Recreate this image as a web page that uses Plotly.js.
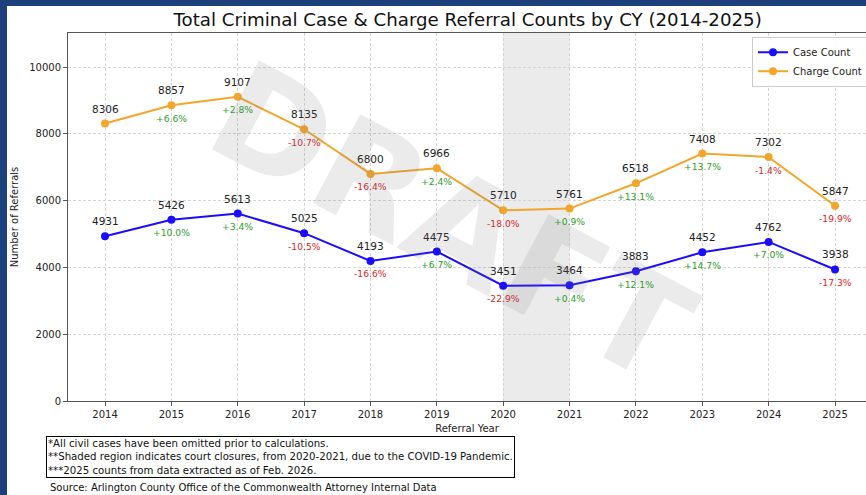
<!DOCTYPE html>
<html>
<head>
<meta charset="utf-8">
<script src="https://cdn.plot.ly/plotly-3.0.1.min.js"></script>
<style>
html,body{margin:0;padding:0;background:#fff;overflow:hidden;}
#wrap{position:relative;width:866px;height:495px;}
#chart{position:absolute;left:0;top:0;width:866px;height:495px;}
.bar{position:absolute;background:#1d3f7c;}
</style>
</head>
<body>
<div id="wrap">
<div id="chart"></div>
<div class="bar" style="left:0;top:0;width:7px;height:495px;"></div>
<div class="bar" style="left:0;top:0;width:866px;height:6px;"></div>
</div>
<script>
const years = [2014,2015,2016,2017,2018,2019,2020,2021,2022,2023,2024,2025];
const caseCounts = [4931,5426,5613,5025,4193,4475,3451,3464,3883,4452,4762,3938];
const chargeCounts = [8306,8857,9107,8135,6800,6966,5710,5761,6518,7408,7302,5847];
const casePct = [null,"+10.0%","+3.4%","-10.5%","-16.6%","+6.7%","-22.9%","+0.4%","+12.1%","+14.7%","+7.0%","-17.3%"];
const chargePct = [null,"+6.6%","+2.8%","-10.7%","-16.4%","+2.4%","-18.0%","+0.9%","+13.1%","+13.7%","-1.4%","-19.9%"];
const yTicks = [0,2000,4000,6000,8000,10000];
const shadeStart = 2020, shadeEnd = 2021;
const titleText = "Total Criminal Case &amp; Charge Referral Counts by CY (2014-2025)";
const notes = ["*All civil cases have been omitted prior to calculations.",
  "**Shaded region indicates court closures, from 2020-2021, due to the COVID-19 Pandemic.",
  "***2025 counts from data extracted as of Feb. 2026."];
const sourceText = "Source: Arlington County Office of the Commonwealth Attorney Internal Data";

const FONT = "DejaVu Sans, sans-serif";
const BLUE = "#1a0dff", ORANGE = "#f2a62b", GREEN = "#2ca02c", RED = "#d62728";

const traces = [
  {x: years, y: caseCounts, name: "Case Count", type: "scatter", mode: "lines+markers",
   line: {color: BLUE, width: 2}, marker: {color: BLUE, size: 8}},
  {x: years, y: chargeCounts, name: "Charge Count", type: "scatter", mode: "lines+markers",
   line: {color: ORANGE, width: 2}, marker: {color: ORANGE, size: 8}}
];

const ann = [];
function addLabels(vals, pcts) {
  vals.forEach((v, i) => {
    ann.push({x: years[i], y: v, xref: "x", yref: "y", text: String(v), showarrow: false,
      yshift: 15, font: {family: FONT, size: 10.5, color: "#222"}});
    if (pcts[i]) {
      ann.push({x: years[i], y: v, xref: "x", yref: "y", text: pcts[i], showarrow: false,
        yshift: -13, font: {family: FONT, size: 9.2, color: pcts[i][0] === "+" ? GREEN : RED}});
    }
  });
}
addLabels(caseCounts, casePct);
addLabels(chargeCounts, chargePct);

ann.push({x: (451-68)/798, y: (401-222)/368, xref: "paper", yref: "paper", text: "DRAFT", showarrow: false,
  textangle: 28, font: {family: FONT, size: 138, color: "rgba(120,120,120,0.15)", weight: "bold"},
  xanchor: "center", yanchor: "middle"});
ann.push({x: (46-68)/798, y: -(436-401)/368, xref: "paper", yref: "paper", xanchor: "left", yanchor: "top",
  align: "left", text: notes.join("<br>"), showarrow: false, bordercolor: "#000", borderwidth: 1,
  borderpad: 1, bgcolor: "#fff", font: {family: FONT, size: 10.2, color: "#111", lineheight: 1.15}});
ann.push({x: (48-68)/798, y: -(488-401)/368, xref: "paper", yref: "paper", xanchor: "left", yanchor: "middle",
  text: sourceText, showarrow: false, font: {family: FONT, size: 10, color: "#111"}});

const layout = {
  width: 866, height: 495,
  margin: {l: 68, r: 0, t: 33, b: 94, autoexpand: false},
  paper_bgcolor: "#fff", plot_bgcolor: "#fff",
  font: {family: FONT, color: "#222"},
  title: {text: titleText, x: 0.54, xanchor: "center", y: 0.96, yanchor: "middle",
    font: {family: FONT, size: 18.2, color: "#111"}},
  xaxis: {range: [2013.442, 2025.467], tickvals: years, ticktext: years.map(String),
    showgrid: true, gridcolor: "#d4d4d4", griddash: "3px,2px", gridwidth: 1,
    showline: true, linecolor: "#555", linewidth: 1, mirror: true,
    ticks: "outside", ticklen: 4, tickcolor: "#555",
    tickfont: {family: FONT, size: 10, color: "#222"}, zeroline: false,
    title: {text: "Referral Year", standoff: 5, font: {family: FONT, size: 10, color: "#222"}}},
  yaxis: {range: [0, 11018], tickvals: yTicks, ticktext: yTicks.map(String),
    showgrid: true, gridcolor: "#d4d4d4", griddash: "3px,2px", gridwidth: 1,
    showline: true, linecolor: "#555", linewidth: 1,
    ticks: "outside", ticklen: 4, tickcolor: "#555",
    tickfont: {family: FONT, size: 10, color: "#222"}, zeroline: false,
    title: {text: "Number of Referrals", standoff: 8, font: {family: FONT, size: 10, color: "#222"}}},
  shapes: [{type: "rect", xref: "x", yref: "paper", x0: shadeStart, x1: shadeEnd, y0: 0, y1: 1,
    fillcolor: "rgba(128,128,128,0.16)", line: {width: 0}, layer: "below"}],
  legend: {x: (752-68)/798, y: 0.99, xanchor: "left", yanchor: "top", bgcolor: "rgba(255,255,255,0.85)",
    bordercolor: "#ccc", borderwidth: 1, font: {family: FONT, size: 10, color: "#222"},
    itemwidth: 30, tracegroupgap: 0},
  annotations: ann,
  showlegend: true
};

Plotly.newPlot("chart", traces, layout, {displayModeBar: false, staticPlot: true});
</script>
</body>
</html>
